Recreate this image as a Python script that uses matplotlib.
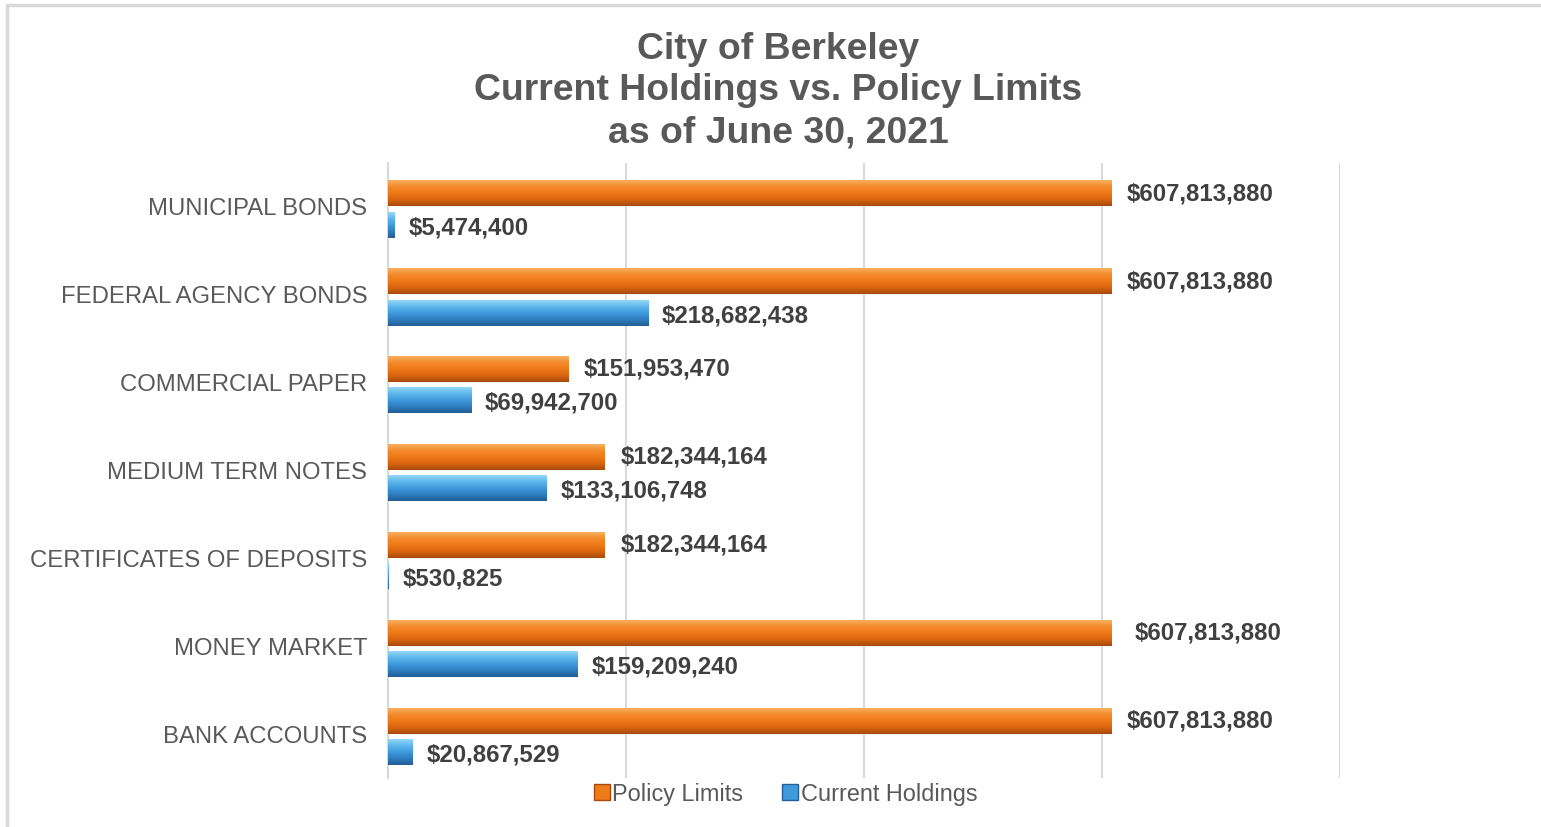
# Current holdings vs policy limits - horizontal bar chart
import matplotlib
matplotlib.use("Agg")
import matplotlib.pyplot as plt
import numpy as np
from matplotlib.colors import LinearSegmentedColormap
from matplotlib.lines import Line2D
from matplotlib.patches import Rectangle

categories = ["MUNICIPAL BONDS", "FEDERAL AGENCY BONDS", "COMMERCIAL PAPER",
              "MEDIUM TERM NOTES", "CERTIFICATES OF DEPOSITS", "MONEY MARKET",
              "BANK ACCOUNTS"]
policy_limits = [607813880, 607813880, 151953470, 182344164, 182344164,
                 607813880, 607813880]
current_holdings = [5474400, 218682438, 69942700, 133106748, 530825,
                    159209240, 20867529]

plt.rcParams['font.family'] = ['Liberation Sans', 'DejaVu Sans']
grey_txt = "#595959"

fig = plt.figure(figsize=(15.41, 8.27), dpi=100)
ax = fig.add_axes([388 / 1541, 1 - 778 / 827, (1340 - 388) / 1541, (778 - 163) / 827])

# outer chart frame
fig.patches.append(Rectangle((7 / 1541, -0.1), 1.2, 1 - 5 / 827 + 0.1,
                             transform=fig.transFigure, fill=False,
                             edgecolor="#D9D9D9", linewidth=2.5))

y = np.arange(len(categories))
h = 0.29
off_p = -0.15
off_c = 0.205

orange_cmap = LinearSegmentedColormap.from_list(
    "og", ["#F9B060", "#F48A2C", "#EE7A18", "#D8650F", "#A84A0A"])
blue_cmap = LinearSegmentedColormap.from_list(
    "bl", ["#92D8F8", "#5DB6EC", "#3F9ADB", "#2F7DC0", "#235E94"])

bars_p = ax.barh(y + off_p, policy_limits, height=h, color="#EE7A18", zorder=2)
bars_c = ax.barh(y + off_c, current_holdings, height=h, color="#3F9ADB", zorder=2)

grad = np.linspace(0, 1, 64).reshape(-1, 1)
for bars, cmap in [(bars_p, orange_cmap), (bars_c, blue_cmap)]:
    for p in bars:
        x0, y0 = p.get_x(), p.get_y()
        w, hh = p.get_width(), p.get_height()
        # y axis is inverted: y0 is the visual top of the bar
        ax.imshow(grad, cmap=cmap, extent=(x0, x0 + w, y0 + hh, y0),
                  origin="upper", aspect="auto", zorder=3,
                  interpolation="bilinear")

# small extra nudge the original has on the money market label
nudge_p = [0, 0, 0, 0, 0, 6, 0]
for i in range(len(categories)):
    ax.annotate(f"${policy_limits[i]:,}", (policy_limits[i], y[i] + off_p),
                xytext=(11 + nudge_p[i], 0), textcoords="offset points",
                va="center", ha="left", fontsize=17.3, fontweight="bold",
                color="#404040")
    ax.annotate(f"${current_holdings[i]:,}", (current_holdings[i], y[i] + off_c),
                xytext=(10, -2), textcoords="offset points", va="center",
                ha="left", fontsize=17.3, fontweight="bold", color="#404040")

ax.set_xlim(0, 800e6)
ax.set_ylim(len(categories) - 0.5, -0.5)
ax.set_xticks([0, 200e6, 400e6, 600e6, 800e6])
ax.set_xticklabels([])
ax.tick_params(axis="x", length=0)
ax.set_yticks(y)
ax.set_yticklabels(categories, fontsize=17.2, color=grey_txt)
ax.tick_params(axis="y", length=0, pad=15)
ax.grid(axis="x", color="#D9D9D9", linewidth=1.5, zorder=0)
for s in ["top", "right", "bottom"]:
    ax.spines[s].set_visible(False)
ax.spines["left"].set_color("#D9D9D9")
ax.spines["left"].set_linewidth(1.5)

fig.text(778 / 1541, 1 - 91 / 827, "City of Berkeley\nCurrent Holdings vs. Policy Limits\nas of June 30, 2021",
         ha="center", va="center", fontsize=26.9, fontweight="bold",
         color=grey_txt, linespacing=1.25)

handles = [Line2D([], [], marker="s", linestyle="none", markersize=11,
                  markerfacecolor="#EE7A18", markeredgecolor="#A84A0A"),
           Line2D([], [], marker="s", linestyle="none", markersize=11,
                  markerfacecolor="#3F9ADB", markeredgecolor="#235E94")]
fig.legend(handles, ["Policy Limits", "Current Holdings"], loc="center",
           bbox_to_anchor=(785 / 1541, 1 - 794 / 827), ncol=2, frameon=False,
           fontsize=16.9, labelcolor=grey_txt, handletextpad=0.05,
           columnspacing=1.6, handlelength=0.8)

fig.savefig("out.png", dpi=100)
